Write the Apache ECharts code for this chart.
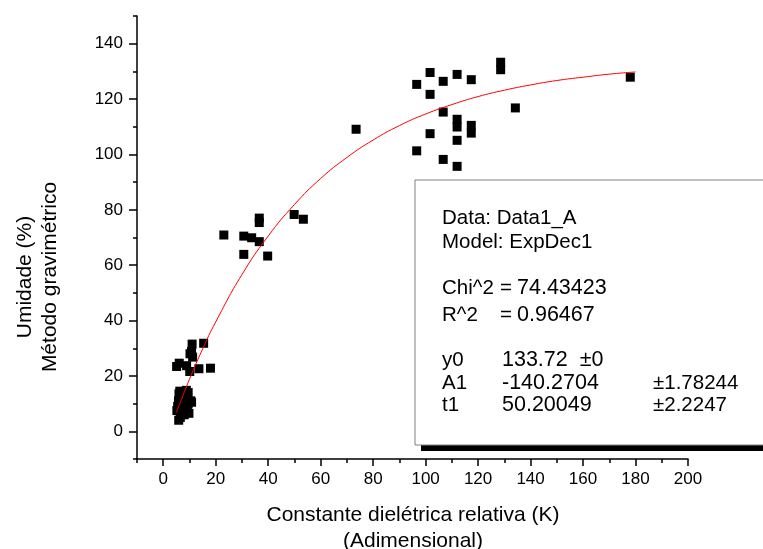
<!DOCTYPE html>
<html>
<head>
<meta charset="utf-8">
<script src="https://cdn.jsdelivr.net/npm/echarts@6/dist/echarts.min.js"></script>
<style>
  html, body { margin: 0; padding: 0; background: #fff; }
  #main { width: 763px; height: 549px; }
</style>
</head>
<body>
<div id="main"></div>
<script>
// measured points (K, umidade %)
var kVals = [
  5.2, 5.5, 5.8, 6.0, 6.3, 6.5, 6.8, 7.0, 7.2, 5.9, 6.5, 7.5, 8.0, 8.3, 8.8, 9.0, 8.5, 9.2, 9.5, 10.5, 10.8, 9.8, 8.0, 7.0, 9.5,
  11.0, 15.4, 10.8, 10.2, 11.2, 6.1, 5.1, 8.9, 10.1, 13.6, 18.0,
  23.1, 30.7, 33.7, 36.6, 36.6, 36.6, 30.7, 39.8, 49.9, 53.4, 73.5,
  96.6, 101.7, 101.7, 106.7, 112.0, 117.4, 128.6, 128.6, 106.7, 112.0, 112.0, 117.4, 117.4, 101.7, 112.0, 96.6, 106.7, 112.0, 134.2, 178.0
];
var umidVals = [
  7.5, 9.0, 11.0, 13.5, 14.5, 12.0, 10.0, 8.0, 6.0, 4.0, 5.0, 9.0, 11.0, 13.0, 14.8, 12.0, 7.0, 8.5, 10.0, 11.0, 10.5, 6.5, 6.0, 14.0, 14.0,
  31.5, 31.8, 28.8, 28.0, 26.8, 24.6, 23.4, 23.7, 21.6, 22.6, 22.8,
  70.9, 70.5, 69.9, 68.5, 77.0, 75.4, 63.9, 63.3, 78.3, 76.6, 109.1,
  125.3, 129.6, 121.7, 126.4, 128.9, 127.0, 133.3, 130.6, 115.3, 112.7, 109.9, 110.5, 107.7, 107.5, 105.1, 101.3, 98.2, 95.7, 116.8, 127.9
];

// ExpDec1 fit curve
var fitK = [5, 10, 15, 20, 30, 40, 50, 60, 70, 80, 90, 100, 110, 120, 130, 140, 150, 160, 170, 180];
var fitU = [6.75, 18.8, 29.7, 39.5, 56.6, 70.5, 81.9, 91.3, 98.9, 105.2, 110.4, 114.6, 118.0, 120.9, 123.2, 125.1, 126.7, 127.9, 129.0, 129.8];

var xMajor = [0, 20, 40, 60, 80, 100, 120, 140, 160, 180, 200];
var yMajor = [0, 20, 40, 60, 80, 100, 120, 140];

var pts = [];
for (var i = 0; i < kVals.length; i++) {
  pts.push([kVals[i], umidVals[i]]);
}
var fitPts = [];
for (var j = 0; j < fitK.length; j++) {
  fitPts.push([fitK[j], fitU[j]]);
}

var font = 'Liberation Sans, Arial, sans-serif';
var myChart = echarts.init(document.getElementById('main'));

// fit report box (s = font size)
var boxLines = [
  {t: 'Data: Data1_A', x: 442, y: 218, s: 20.5},
  {t: 'Model: ExpDec1', x: 442, y: 242, s: 20.5},
  {t: 'Chi^2', x: 442, y: 288, s: 20.5},
  {t: '=', x: 500, y: 288, s: 20.5},
  {t: '74.43423', x: 517, y: 288, s: 21.5},
  {t: 'R^2', x: 442, y: 315, s: 20.5},
  {t: '=', x: 500, y: 315, s: 20.5},
  {t: '0.96467', x: 517, y: 315, s: 21.5},
  {t: 'y0', x: 442, y: 360, s: 20.5},
  {t: '133.72  \u00b10', x: 502, y: 360, s: 21.5},
  {t: 'A1', x: 442, y: 383, s: 20.5},
  {t: '-140.2704', x: 502, y: 383, s: 21.5},
  {t: '\u00b11.78244', x: 653, y: 383, s: 20.5},
  {t: 't1', x: 442, y: 405, s: 20.5},
  {t: '50.20049', x: 502, y: 405, s: 21.5},
  {t: '\u00b12.2247', x: 653, y: 405, s: 20.5}
];

var graphics = [
  {type: 'rect', z: 100, shape: {x: 421, y: 186, width: 360, height: 265}, style: {fill: '#000'}},
  {type: 'rect', z: 101, shape: {x: 415, y: 180, width: 360, height: 265}, style: {fill: '#fff', stroke: '#808080', lineWidth: 1}}
];
boxLines.forEach(function (l) {
  graphics.push({
    type: 'text', z: 102, x: l.x, y: l.y,
    style: {text: l.t, fill: '#000', font: l.s + 'px ' + font, textAlign: 'left', textVerticalAlign: 'middle'}
  });
});
// axis titles
graphics.push(
  {type: 'text', x: 413, y: 515, style: {text: 'Constante dielétrica relativa (K)', fill: '#000', font: '21px ' + font, textAlign: 'center', textVerticalAlign: 'middle'}},
  {type: 'text', x: 413, y: 541, style: {text: '(Adimensional)', fill: '#000', font: '21px ' + font, textAlign: 'center', textVerticalAlign: 'middle'}},
  {type: 'text', x: 25, y: 277, rotation: Math.PI / 2, style: {text: 'Umidade (%)', fill: '#000', font: '21px ' + font, textAlign: 'center', textVerticalAlign: 'middle'}},
  {type: 'text', x: 50, y: 277, rotation: Math.PI / 2, style: {text: 'Método gravimétrico', fill: '#000', font: '21px ' + font, textAlign: 'center', textVerticalAlign: 'middle'}}
);

var option = {
  animation: false,
  backgroundColor: '#fff',
  grid: {left: 137, right: 75, top: 16, bottom: 90, containLabel: false},
  xAxis: [
    {
      type: 'value', min: -10, max: 200, interval: 10, position: 'bottom',
      axisLine: {show: true, onZero: false, lineStyle: {color: '#000', width: 1.5}},
      axisTick: {show: true, inside: false, length: 4, lineStyle: {color: '#000', width: 1.5}},
      axisLabel: {show: false},
      splitLine: {show: false}
    },
    {
      type: 'value', min: -10, max: 200, position: 'bottom',
      axisLine: {show: false, onZero: false},
      axisTick: {show: true, inside: false, length: 7, customValues: xMajor, lineStyle: {color: '#000', width: 1.5}},
      axisLabel: {show: true, customValues: xMajor, margin: 12, color: '#000', fontSize: 17, fontFamily: font},
      splitLine: {show: false}
    }
  ],
  yAxis: [
    {
      type: 'value', min: -10, max: 150, interval: 10, position: 'left',
      axisLine: {show: true, onZero: false, lineStyle: {color: '#000', width: 1.5}},
      axisTick: {show: true, inside: false, length: 4, lineStyle: {color: '#000', width: 1.5}},
      axisLabel: {show: false},
      splitLine: {show: false}
    },
    {
      type: 'value', min: -10, max: 150, position: 'left',
      axisLine: {show: false, onZero: false},
      axisTick: {show: true, inside: false, length: 8, customValues: yMajor, lineStyle: {color: '#000', width: 1.5}},
      axisLabel: {show: true, customValues: yMajor, margin: 14, color: '#000', fontSize: 17, fontFamily: font},
      splitLine: {show: false}
    }
  ],
  series: [
    {
      type: 'scatter', xAxisIndex: 0, yAxisIndex: 0,
      symbol: 'rect', symbolSize: 9,
      itemStyle: {color: '#000', opacity: 1},
      data: pts
    },
    {
      type: 'line', xAxisIndex: 0, yAxisIndex: 0,
      smooth: true, showSymbol: false, symbol: 'none',
      lineStyle: {color: '#ff0000', width: 1},
      z: 5,
      data: fitPts
    }
  ],
  graphic: graphics
};

option && myChart.setOption(option);
</script>
</body>
</html>
